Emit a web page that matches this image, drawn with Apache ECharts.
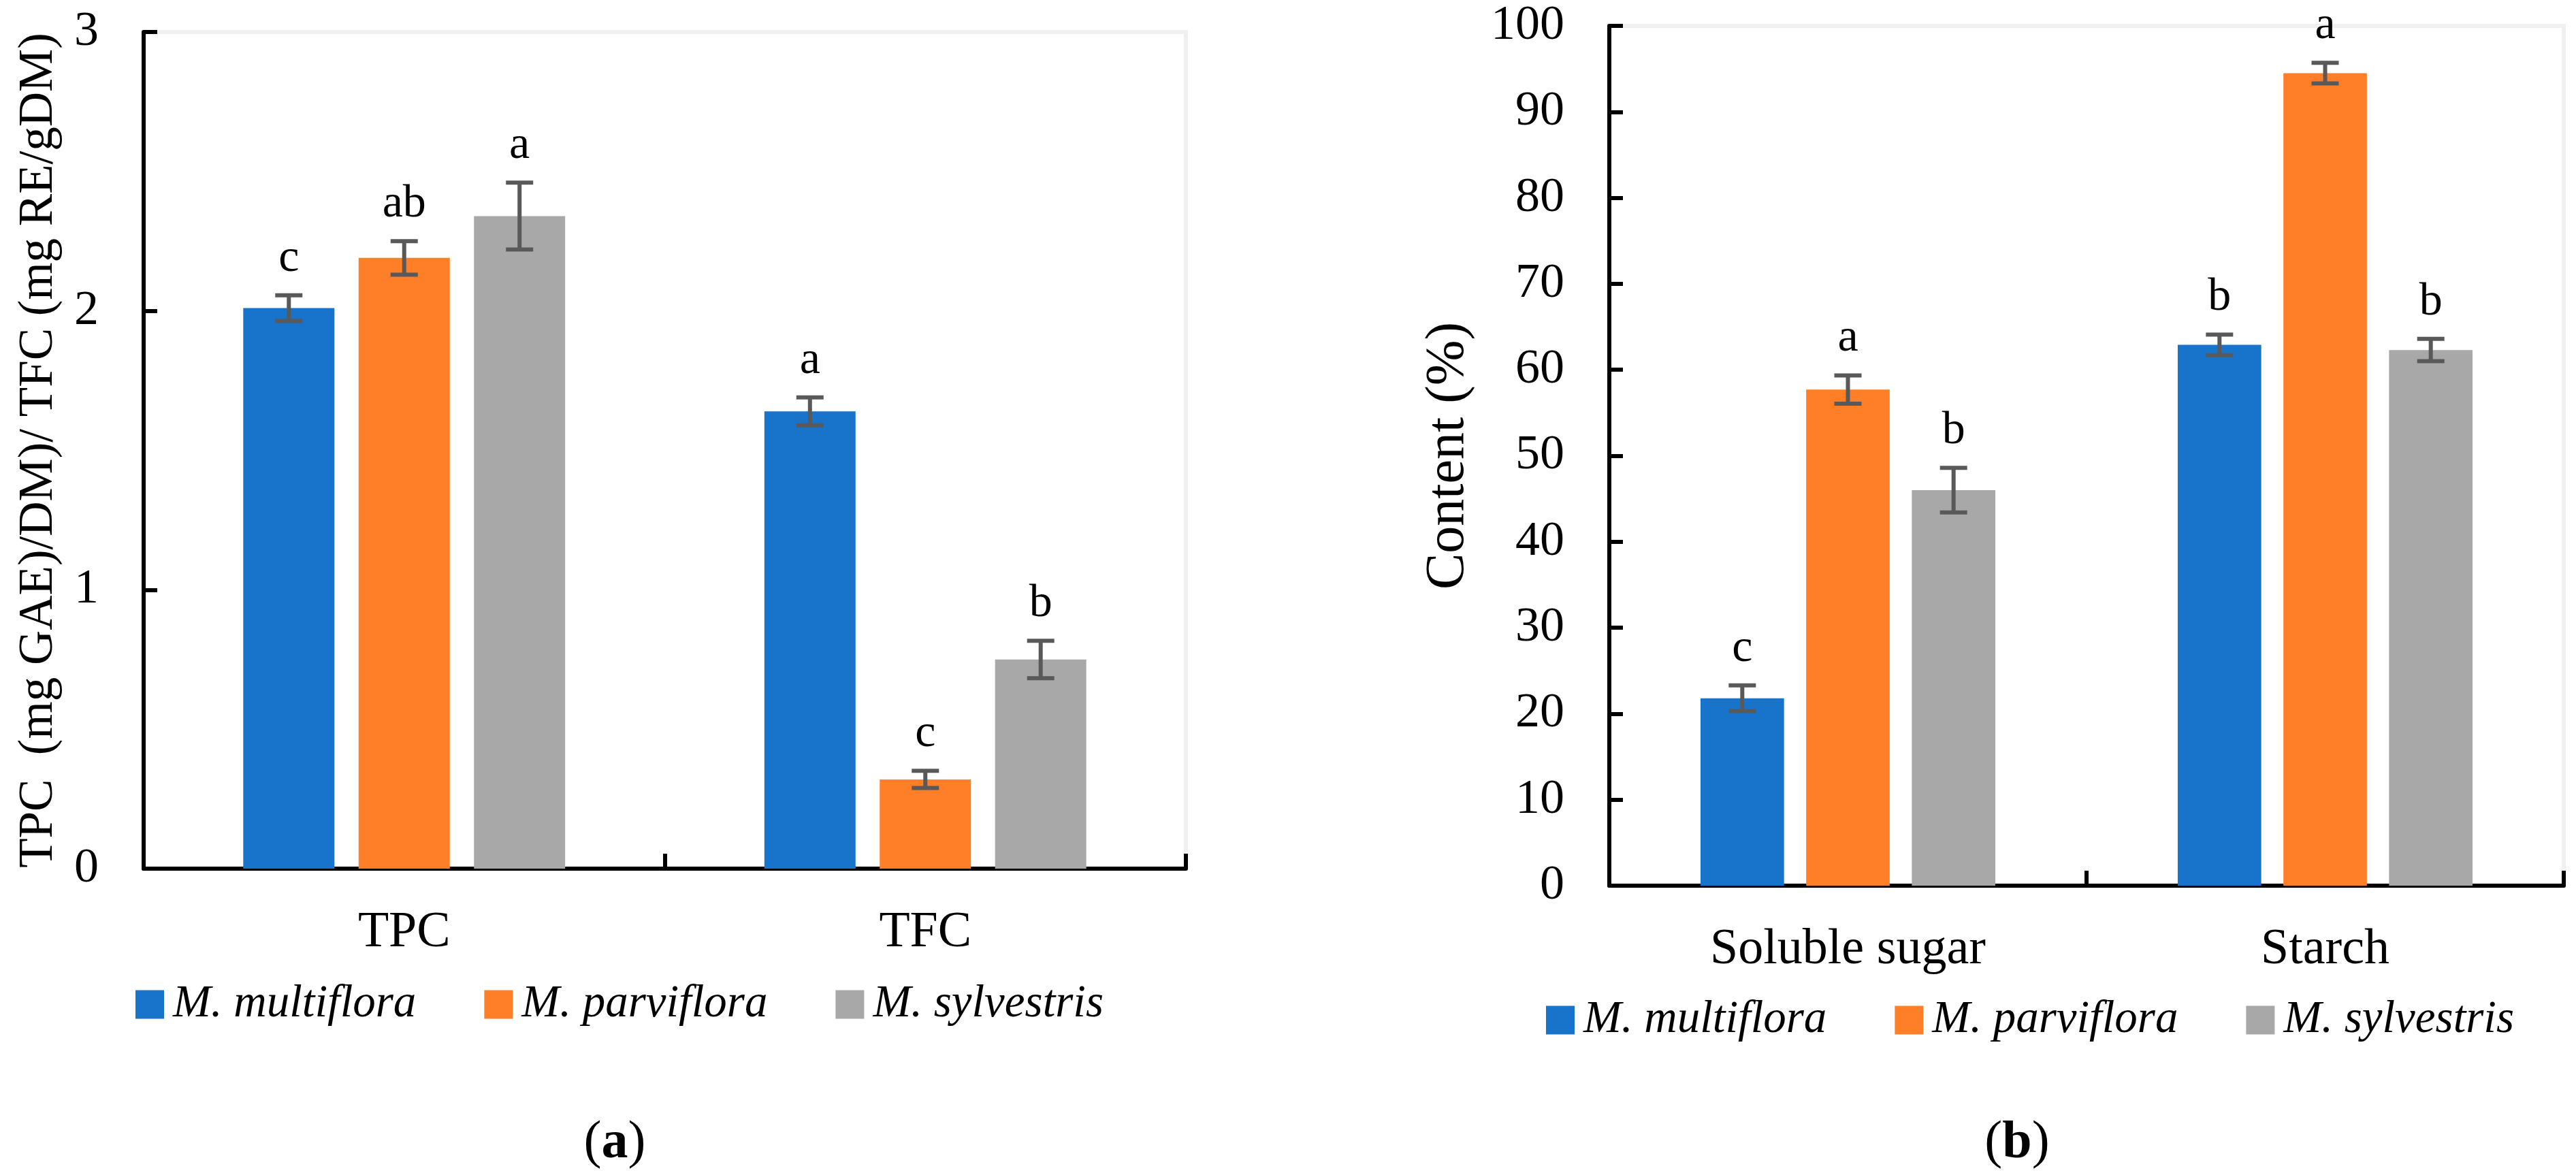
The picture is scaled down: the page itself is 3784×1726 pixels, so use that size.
<!DOCTYPE html>
<html>
<head>
<meta charset="utf-8">
<script src="https://cdn.jsdelivr.net/npm/echarts@6/dist/echarts.min.js"></script>
<style>html,body{margin:0;padding:0;background:#fff;}#c{width:3784px;height:1726px;}</style>
</head>
<body>
<div id="c"></div>
<script>
// ---- data ----
const speciesNames = ['M. multiflora', 'M. parviflora', 'M. sylvestris'];

const categoriesA = ['TPC', 'TFC'];
const multifloraA = [2.01, 1.64];
const parvifloraA = [2.19, 0.32];
const sylvestrisA = [2.34, 0.75];
const multifloraErrA = [0.046, 0.05];
const parvifloraErrA = [0.06, 0.031];
const sylvestrisErrA = [0.12, 0.067];
const multifloraLetA = ['c', 'a'];
const parvifloraLetA = ['ab', 'c'];
const sylvestrisLetA = ['a', 'b'];
const yTicksA = [0, 1, 2, 3];

const categoriesB = ['Soluble sugar', 'Starch'];
const multifloraB = [21.8, 62.9];
const parvifloraB = [57.7, 94.5];
const sylvestrisB = [46.0, 62.3];
const multifloraErrB = [1.5, 1.2];
const parvifloraErrB = [1.65, 1.2];
const sylvestrisErrB = [2.6, 1.3];
const multifloraLetB = ['c', 'b'];
const parvifloraLetB = ['a', 'a'];
const sylvestrisLetB = ['b', 'b'];
const yTicksB = [0, 10, 20, 30, 40, 50, 60, 70, 80, 90, 100];

const colors = ['#1874CB', '#FE7F27', '#A8A8A8'];
const FONT = 'Liberation Serif';
const BAR_FRAC = 0.175, GAP_FRAC = 0.265;

function errSeries(name, gridIdx, sIdx, vals, errs, lets) {
  return {
    name: name, type: 'custom', xAxisIndex: gridIdx, yAxisIndex: gridIdx, z: 5,
    data: vals.map((v, i) => [i, v, errs[i]]),
    encode: { x: 0, y: 1 },
    renderItem: function (params, api) {
      const cat = api.value(0), v = api.value(1), e = api.value(2);
      const catW = api.size([1, 0])[0];
      const bw = catW * BAR_FRAC;
      const off = (sIdx - 1) * bw * (1 + GAP_FRAC);
      const t = api.coord([cat, v + e]);
      const b = api.coord([cat, v - e]);
      const x = t[0] + off;
      const hw = 20;
      const st = { stroke: '#595959', lineWidth: 6 };
      return {
        type: 'group',
        children: [
          { type: 'line', shape: { x1: x, y1: t[1], x2: x, y2: b[1] }, style: st },
          { type: 'line', shape: { x1: x - hw, y1: t[1], x2: x + hw, y2: t[1] }, style: st },
          { type: 'line', shape: { x1: x - hw, y1: b[1], x2: x + hw, y2: b[1] }, style: st },
          { type: 'text', style: { x: x, y: t[1] - 20, text: lets[params.dataIndex], fill: '#000',
            font: '68px "' + FONT + '"', textAlign: 'center', textVerticalAlign: 'bottom' } }
        ]
      };
    }
  };
}

function barSeries(name, gridIdx, sIdx, vals) {
  return {
    name: name, type: 'bar', xAxisIndex: gridIdx, yAxisIndex: gridIdx,
    data: vals, barWidth: (BAR_FRAC * 100) + '%', barGap: (GAP_FRAC * 100) + '%',
    itemStyle: { color: colors[sIdx] }, animation: false
  };
}

function xAxis(gridIdx, cats) {
  return {
    type: 'category', gridIndex: gridIdx, data: cats,
    axisLine: { lineStyle: { color: '#000', width: 6 } },
    axisTick: { show: true, inside: true, length: 22, interval: 0, lineStyle: { color: '#000', width: 6 } },
    axisLabel: { fontFamily: FONT, fontSize: 74, color: '#000', margin: 58 },
    splitLine: { show: false }
  };
}

function yAxis(gridIdx, ticks, name, gap, nameSize) {
  return {
    type: 'value', gridIndex: gridIdx, min: ticks[0], max: ticks[ticks.length - 1],
    interval: ticks[1] - ticks[0],
    name: name, nameLocation: 'middle', nameGap: gap,
    nameTextStyle: { fontFamily: FONT, fontSize: nameSize, color: '#000' },
    axisLine: { show: true, lineStyle: { color: '#000', width: 6 } },
    axisTick: { show: true, inside: true, length: 20, lineStyle: { color: '#000', width: 6 } },
    axisLabel: { fontFamily: FONT, fontSize: 72, color: '#000', margin: 66 },
    splitLine: { show: false }
  };
}

const legendText = { fontFamily: FONT, fontStyle: 'italic', fontSize: 67, color: '#000', padding: [0, 0, 0, 8] };

const chart = echarts.init(document.getElementById('c'));
chart.setOption({
  animation: false,
  backgroundColor: '#fff',
  grid: [
    { left: 211, top: 47, width: 1531, height: 1229, show: true, borderColor: '#f0f0f0', borderWidth: 6 },
    { left: 2364, top: 38, width: 1402, height: 1263, show: true, borderColor: '#f0f0f0', borderWidth: 6 }
  ],
  legend: [
    { data: speciesNames, left: 194, top: 1437, icon: 'rect', itemWidth: 42, itemHeight: 42, itemGap: 100,
      textStyle: legendText, selectedMode: false },
    { data: speciesNames, left: 2266, top: 1460, icon: 'rect', itemWidth: 42, itemHeight: 42, itemGap: 100,
      textStyle: legendText, selectedMode: false }
  ],
  xAxis: [xAxis(0, categoriesA), xAxis(1, categoriesB)],
  yAxis: [yAxis(0, yTicksA, 'TPC  (mg GAE)/DM)/ TFC (mg RE/gDM)', 118, 71), yAxis(1, yTicksB, 'Content (%)', 196, 80)],
  graphic: [
    { type: 'text', x: 903, y: 1680, style: { text: '{p|(}{b|a}{p|)}', align: 'center', verticalAlign: 'middle', rich: {
      p: { font: '78px "' + FONT + '"', fill: '#000' }, b: { font: 'bold 78px "' + FONT + '"', fill: '#000' } } } },
    { type: 'text', x: 2963, y: 1680, style: { text: '{p|(}{b|b}{p|)}', align: 'center', verticalAlign: 'middle', rich: {
      p: { font: '78px "' + FONT + '"', fill: '#000' }, b: { font: 'bold 78px "' + FONT + '"', fill: '#000' } } } }
  ],
  series: [
    barSeries(speciesNames[0], 0, 0, multifloraA),
    barSeries(speciesNames[1], 0, 1, parvifloraA),
    barSeries(speciesNames[2], 0, 2, sylvestrisA),
    barSeries(speciesNames[0], 1, 0, multifloraB),
    barSeries(speciesNames[1], 1, 1, parvifloraB),
    barSeries(speciesNames[2], 1, 2, sylvestrisB),
    errSeries(speciesNames[0], 0, 0, multifloraA, multifloraErrA, multifloraLetA),
    errSeries(speciesNames[1], 0, 1, parvifloraA, parvifloraErrA, parvifloraLetA),
    errSeries(speciesNames[2], 0, 2, sylvestrisA, sylvestrisErrA, sylvestrisLetA),
    errSeries(speciesNames[0], 1, 0, multifloraB, multifloraErrB, multifloraLetB),
    errSeries(speciesNames[1], 1, 1, parvifloraB, parvifloraErrB, parvifloraLetB),
    errSeries(speciesNames[2], 1, 2, sylvestrisB, sylvestrisErrB, sylvestrisLetB)
  ]
});
</script>
</body>
</html>
